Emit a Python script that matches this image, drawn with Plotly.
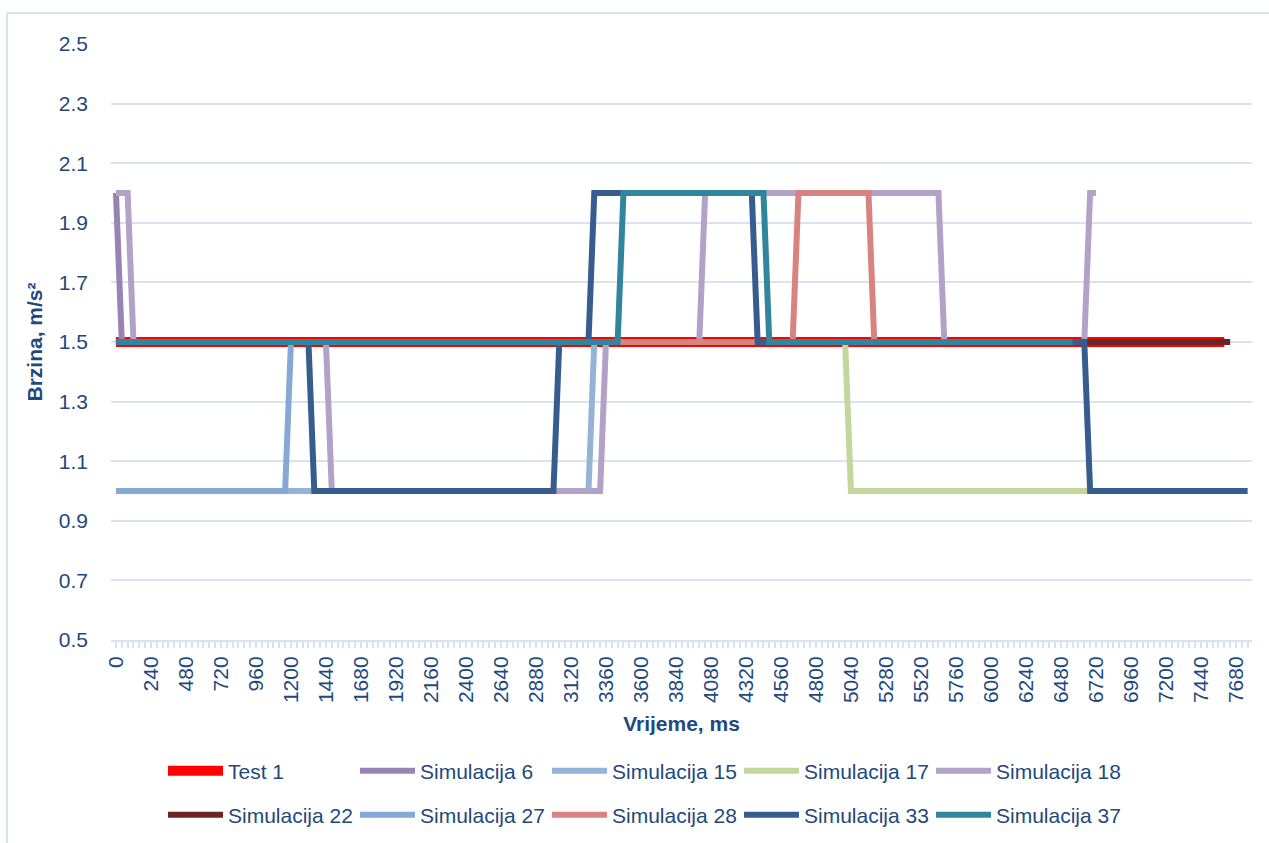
import plotly.graph_objects as go

# ---- data (vertices of each series, time in ms, speed in m/s) ----
test1_x = [0, 7600]
test1_y = [1.5, 1.5]

sim6_x = [0, 40, 6560]
sim6_y = [2.0, 1.5, 1.5]

sim15_x = [0, 3240, 3280, 6560]
sim15_y = [1.0, 1.0, 1.5, 1.5]

sim17_x = [0, 5000, 5040, 6680]
sim17_y = [1.5, 1.5, 1.0, 1.0]

sim18_x = [0, 80, 120, 1440, 1480, 3320, 3360, 4000, 4040, 5640, 5680, 6640, 6680, 6720]
sim18_y = [2.0, 2.0, 1.5, 1.5, 1.0, 1.0, 1.5, 1.5, 2.0, 2.0, 1.5, 1.5, 2.0, 2.0]

sim22_x = [0, 7640]
sim22_y = [1.5, 1.5]

sim27_x = [0, 1160, 1200, 6560]
sim27_y = [1.0, 1.0, 1.5, 1.5]

sim28_x = [0, 4640, 4680, 5160, 5200, 6560]
sim28_y = [1.5, 1.5, 2.0, 2.0, 1.5, 1.5]

sim33_x = [0, 1320, 1360, 3000, 3040, 3240, 3280, 4360, 4400, 6640, 6680, 7760]
sim33_y = [1.5, 1.5, 1.0, 1.0, 1.5, 1.5, 2.0, 2.0, 1.5, 1.5, 1.0, 1.0]

sim37_x = [0, 3440, 3480, 4440, 4480, 6560]
sim37_y = [1.5, 1.5, 2.0, 2.0, 1.5, 1.5]

x_tick_vals = [0, 240, 480, 720, 960, 1200, 1440, 1680, 1920, 2160, 2400, 2640,
               2880, 3120, 3360, 3600, 3840, 4080, 4320, 4560, 4800, 5040, 5280,
               5520, 5760, 6000, 6240, 6480, 6720, 6960, 7200, 7440, 7680]
x_tick_text = [str(v) for v in x_tick_vals]
y_tick_vals = [0.5, 0.7, 0.9, 1.1, 1.3, 1.5, 1.7, 1.9, 2.1, 2.3, 2.5]
y_tick_text = ["0.5", "0.7", "0.9", "1.1", "1.3", "1.5", "1.7", "1.9", "2.1", "2.3", "2.5"]

series = [
    ("Test 1", test1_x, test1_y, "#FF0000", 10, "legend"),
    ("Simulacija 6", sim6_x, sim6_y, "#9983B5", 6, "legend"),
    ("Simulacija 15", sim15_x, sim15_y, "#95B3D7", 6, "legend"),
    ("Simulacija 17", sim17_x, sim17_y, "#C3D69B", 6, "legend"),
    ("Simulacija 18", sim18_x, sim18_y, "#B3A2C7", 6, "legend"),
    ("Simulacija 22", sim22_x, sim22_y, "#6B2424", 6, "legend2"),
    ("Simulacija 27", sim27_x, sim27_y, "#86A8D5", 6, "legend2"),
    ("Simulacija 28", sim28_x, sim28_y, "#D8837F", 6, "legend2"),
    ("Simulacija 33", sim33_x, sim33_y, "#365D8D", 6, "legend2"),
    ("Simulacija 37", sim37_x, sim37_y, "#31859C", 6, "legend2"),
]

TXT = "#1F497D"
GRID = "#D9E2F3"
FONT = "Liberation Sans"

fig = go.Figure()
for name, xs, ys, col, w, lg in series:
    fig.add_trace(go.Scatter(x=xs, y=ys, mode="lines", name=name,
                             line=dict(color=col, width=w), legend=lg))

W, H = 1269, 843
L, R, T, B = 111, 17, 44, 203
pw, ph = W - L - R, H - T - B

def px_to_paper_x(px):
    return (px - L) / pw

def px_to_paper_y(py):
    return (H - B - py) / ph

legend_common = dict(
    orientation="h", xanchor="left", yanchor="middle",
    font=dict(family=FONT, size=21, color=TXT),
    itemwidth=55, entrywidth=122, entrywidthmode="pixels",
    bgcolor="rgba(0,0,0,0)", borderwidth=0, traceorder="normal",
)

fig.update_layout(
    width=W, height=H,
    margin=dict(l=L, r=R, t=T, b=B, autoexpand=False),
    paper_bgcolor="white", plot_bgcolor="white",
    font=dict(family=FONT, size=21, color=TXT),
    showlegend=True,
    legend=dict(x=px_to_paper_x(163), y=px_to_paper_y(771), **legend_common),
    legend2=dict(x=px_to_paper_x(163), y=px_to_paper_y(815), **legend_common),
    xaxis=dict(
        range=[-34, 7790], tickmode="array", tickvals=x_tick_vals, ticktext=x_tick_text,
        tickangle=-90, tickfont=dict(family=FONT, size=21, color=TXT),
        ticks="outside", ticklen=6, tickwidth=1.5, tickcolor=GRID,
        minor=dict(dtick=40, tick0=0, ticks="outside", ticklen=6, tickwidth=1.5,
                   tickcolor=GRID, showgrid=False),
        showline=True, linecolor=GRID, linewidth=2, showgrid=False, zeroline=False,
        title=dict(text="<b>Vrijeme, ms</b>", font=dict(family=FONT, size=21, color=TXT),
                   standoff=14),
        automargin=False,
    ),
    yaxis=dict(
        range=[0.5, 2.5], tickmode="array", tickvals=y_tick_vals, ticktext=y_tick_text,
        tickfont=dict(family=FONT, size=21, color=TXT),
        showgrid=True, gridcolor=GRID, gridwidth=1.5, zeroline=False, showline=False,
        ticks="", ticklabelstandoff=22,
        title=dict(text="<b>Brzina, m/s²</b>", font=dict(family=FONT, size=21, color=TXT),
                   standoff=10),
        automargin=False,
    ),
    shapes=[
        dict(type="line", xref="paper", yref="paper",
             x0=px_to_paper_x(7), x1=px_to_paper_x(1275),
             y0=px_to_paper_y(13), y1=px_to_paper_y(13),
             line=dict(color="#D9E2F0", width=2)),
        dict(type="line", xref="paper", yref="paper",
             x0=px_to_paper_x(7), x1=px_to_paper_x(7),
             y0=px_to_paper_y(13), y1=px_to_paper_y(850),
             line=dict(color="#D9E2F0", width=2)),
    ],
)

fig.write_html("out.html", config={"displayModeBar": False},
               post_script="document.body.style.margin='0';")
